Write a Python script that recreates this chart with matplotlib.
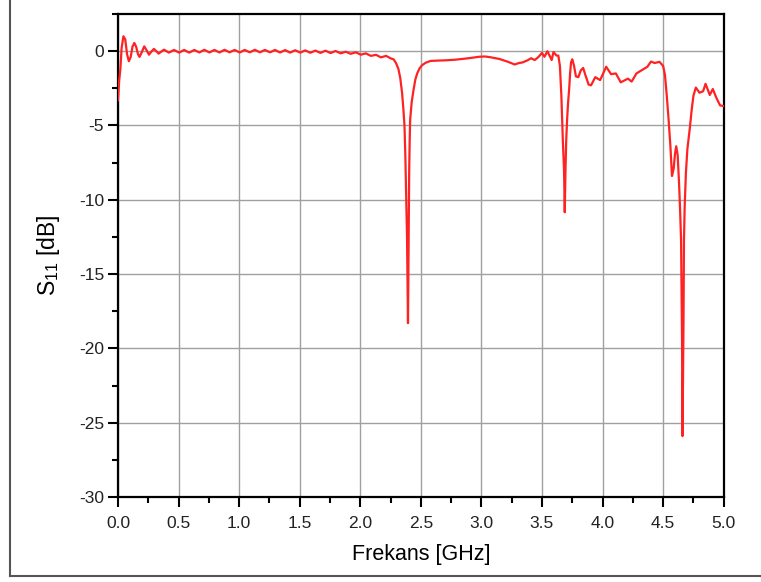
import numpy as np
import matplotlib
matplotlib.use("Agg")
import matplotlib.pyplot as plt
from matplotlib.lines import Line2D
from matplotlib.ticker import MultipleLocator

plt.rcParams['font.family'] = ['Liberation Sans', 'DejaVu Sans']
plt.rcParams['mathtext.default'] = 'regular'
plt.rcParams['axes.unicode_minus'] = False

# measured reflection coefficient, frequency in GHz and S11 in dB
freq = [0.000, 0.010, 0.020, 0.030, 0.045, 0.060, 0.075, 0.090, 0.105, 0.120,
        0.135, 0.150, 0.165, 0.178, 0.195, 0.217, 0.237, 0.256, 0.277, 0.297,
        0.316, 0.336, 0.358, 0.380, 0.420, 0.463, 0.505, 0.546, 0.588, 0.630,
        0.672, 0.713, 0.755, 0.796, 0.838, 0.880, 0.921, 0.963, 1.005, 1.046,
        1.088, 1.130, 1.171, 1.213, 1.255, 1.296, 1.338, 1.380, 1.421, 1.463,
        1.505, 1.546, 1.588, 1.630, 1.671, 1.713, 1.755, 1.796, 1.838, 1.880,
        1.921, 1.963, 2.005, 2.046, 2.088, 2.130, 2.171, 2.213, 2.255, 2.275,
        2.295, 2.315, 2.330, 2.345, 2.355, 2.365, 2.372, 2.378, 2.382, 2.386,
        2.389, 2.392, 2.394, 2.397, 2.400, 2.404, 2.408, 2.412, 2.425, 2.440,
        2.455, 2.470, 2.490, 2.510, 2.540, 2.580, 2.630, 2.700, 2.780, 2.850,
        2.920, 2.980, 3.030, 3.080, 3.150, 3.220, 3.275, 3.310, 3.340, 3.380,
        3.410, 3.440, 3.470, 3.500, 3.520, 3.545, 3.565, 3.580, 3.595, 3.620,
        3.635, 3.648, 3.660, 3.672, 3.682, 3.688, 3.694, 3.700, 3.708, 3.716,
        3.724, 3.732, 3.740, 3.750, 3.765, 3.780, 3.800, 3.820, 3.840, 3.857,
        3.885, 3.905, 3.940, 3.980, 4.005, 4.030, 4.070, 4.110, 4.150, 4.210,
        4.240, 4.280, 4.320, 4.370, 4.400, 4.430, 4.470, 4.500, 4.515, 4.530,
        4.545, 4.560, 4.573, 4.587, 4.598, 4.608, 4.620, 4.632, 4.640, 4.648,
        4.652, 4.656, 4.660, 4.664, 4.668, 4.672, 4.678, 4.688, 4.700, 4.720,
        4.735, 4.750, 4.770, 4.800, 4.830, 4.850, 4.885, 4.910, 4.940, 4.970,
        5.000]
s11 = [-3.30, -2.00, -1.20, 0.20, 1.00, 0.80, -0.20, -0.68, -0.40, 0.30,
       0.55, 0.30, -0.20, -0.39, -0.10, 0.32, 0.05, -0.24, -0.02, 0.15,
       0.00, -0.17, -0.03, 0.10, -0.10, 0.08, -0.10, 0.08, -0.10, 0.08,
       -0.09, 0.09, -0.09, 0.08, -0.09, 0.09, -0.08, 0.08, -0.09, 0.08,
       -0.08, 0.09, -0.08, 0.08, -0.08, 0.08, -0.09, 0.07, -0.10, 0.06,
       -0.10, 0.05, -0.11, 0.04, -0.12, 0.03, -0.13, 0.01, -0.15, -0.04,
       -0.18, -0.08, -0.24, -0.15, -0.32, -0.25, -0.42, -0.32, -0.50, -0.55,
       -0.80, -1.20, -1.80, -2.80, -3.80, -5.00, -7.00, -9.30, -11.0, -12.5,
       -14.5, -16.5, -18.3, -15.0, -11.0, -8.00, -6.00, -4.60, -3.40, -2.60,
       -1.90, -1.50, -1.15, -0.95, -0.78, -0.66, -0.64, -0.62, -0.58, -0.52,
       -0.45, -0.38, -0.36, -0.42, -0.53, -0.72, -0.90, -0.80, -0.76, -0.62,
       -0.48, -0.60, -0.40, -0.12, -0.38, -0.01, -0.35, -0.60, -0.06, -0.30,
       -0.30, -1.00, -3.00, -6.00, -8.00, -10.84, -8.00, -6.00, -4.50, -3.40,
       -2.60, -1.50, -0.75, -0.55, -1.00, -1.70, -1.75, -1.30, -1.13, -1.58,
       -2.25, -2.30, -1.75, -1.95, -1.50, -1.05, -1.55, -1.50, -2.10, -1.85,
       -2.05, -1.50, -1.30, -1.05, -0.70, -0.80, -0.72, -1.00, -1.60, -3.00,
       -4.60, -6.40, -8.40, -7.90, -6.90, -6.40, -7.00, -9.00, -10.7, -12.7,
       -16.0, -19.4, -25.9, -22.0, -18.3, -12.7, -10.4, -8.20, -6.60, -5.20,
       -4.00, -3.00, -2.45, -2.80, -2.70, -2.20, -2.95, -2.55, -3.15, -3.65,
       -3.70]

x_ticks = [0.0, 0.5, 1.0, 1.5, 2.0, 2.5, 3.0, 3.5, 4.0, 4.5, 5.0]
y_ticks = [0, -5, -10, -15, -20, -25, -30]

fig = plt.figure(figsize=(7.61, 5.82), dpi=100)
ax = fig.add_axes([0.155, 0.146, 0.796, 0.830])

ax.plot(freq, s11, color='#ff2222', lw=1.6, zorder=3)

ax.set_xlim(0, 5)
ax.set_ylim(-30, 2.5)
ax.set_xticks(x_ticks)
ax.set_xticklabels(['%.1f' % v for v in x_ticks])
ax.set_yticks(y_ticks)
ax.xaxis.set_minor_locator(MultipleLocator(0.25))
ax.yaxis.set_minor_locator(MultipleLocator(2.5))
ax.grid(True, which='major', color='#a0a0a0', lw=1.0)
ax.set_axisbelow(True)

ax.tick_params(which='major', direction='out', length=7, width=1.5, pad=3,
               labelsize=12.5, colors='black', labelcolor='#222222')
ax.tick_params(axis='x', which='major', pad=7)
ax.tick_params(which='minor', direction='out', length=4, width=1.5)
for s in ax.spines.values():
    s.set_linewidth(1.6)

ax.set_xlabel('Frekans [GHz]', fontsize=15.5, labelpad=9)
ax.set_ylabel('S$_{11}$ [dB]', fontsize=16.5, labelpad=12)

# outer frame on the left and bottom
fig.add_artist(Line2D([10 / 761, 10 / 761], [1 - 576 / 582, 1.0],
                      color='#555555', lw=1.5))
fig.add_artist(Line2D([10 / 761, 1.0], [1 - 576 / 582, 1 - 576 / 582],
                      color='#555555', lw=1.5))

fig.savefig('out.png', dpi=100)
